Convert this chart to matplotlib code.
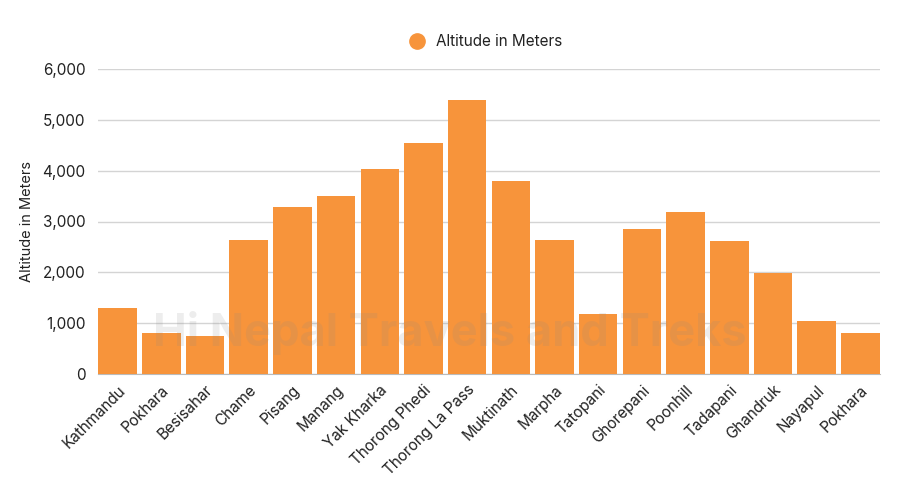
import matplotlib
matplotlib.use("Agg")
import matplotlib.pyplot as plt
from matplotlib.lines import Line2D
from matplotlib.ticker import FuncFormatter

plt.rcParams['font.family'] = ['Inter', 'DejaVu Sans']

# stops along the trek and their altitude (m)
places = ["Kathmandu", "Pokhara", "Besisahar", "Chame", "Pisang", "Manang",
          "Yak Kharka", "Thorong Phedi", "Thorong La Pass", "Muktinath",
          "Marpha", "Tatopani", "Ghorepani", "Poonhill", "Tadapani",
          "Ghandruk", "Nayapul", "Pokhara"]
altitude = [1300, 800, 740, 2630, 3290, 3510, 4040, 4540, 5400, 3790,
            2640, 1180, 2860, 3190, 2620, 1990, 1050, 800]
yticks = [0, 1000, 2000, 3000, 4000, 5000, 6000]

orange = "#F7943B"

fig = plt.figure(figsize=(9, 5), dpi=100)
ax = fig.add_axes([98/900, 126/500, 782/900, 305/500])

xs = list(range(len(places)))
ax.bar(xs, altitude, width=0.88, color=orange, zorder=2)

ax.set_xlim(-0.45, len(places) - 0.55)
ax.set_ylim(0, 6000)
ax.set_yticks(yticks)
ax.yaxis.set_major_formatter(FuncFormatter(lambda v, p: f"{int(v):,}"))
ax.grid(axis='y', color="#d4d4d4", linewidth=1, zorder=0)
ax.set_axisbelow(True)
for s in ["top", "right", "left"]:
    ax.spines[s].set_visible(False)
ax.spines["bottom"].set_color("#bbbbbb")
ax.spines["bottom"].set_zorder(1)
ax.tick_params(axis='both', length=0, labelsize=11, colors="#222222")
ax.tick_params(axis='y', pad=9)
ax.tick_params(axis='x', pad=6)

ax.set_xticks(xs)
ax.set_xticklabels(places, rotation=45, ha='right', rotation_mode='anchor')
ax.set_ylabel("Altitude in Meters", fontsize=10.5, color="#222222", labelpad=6)

# watermark
fig.text(450/900, 1 - 333/500, "Hi Nepal Travels and Treks",
         ha='center', va='center', fontsize=32.5, fontweight='bold',
         color="#888888", alpha=0.15, zorder=5)

handle = Line2D([], [], marker='o', linestyle='none', markersize=11,
                markerfacecolor=orange, markeredgecolor=orange)
fig.legend([handle], ["Altitude in Meters"], loc='center',
           bbox_to_anchor=(482/900, 1 - 42/500), frameon=False,
           fontsize=11, handletextpad=0.3, labelcolor="#222222")

fig.savefig("out.png", dpi=100, facecolor="white")
